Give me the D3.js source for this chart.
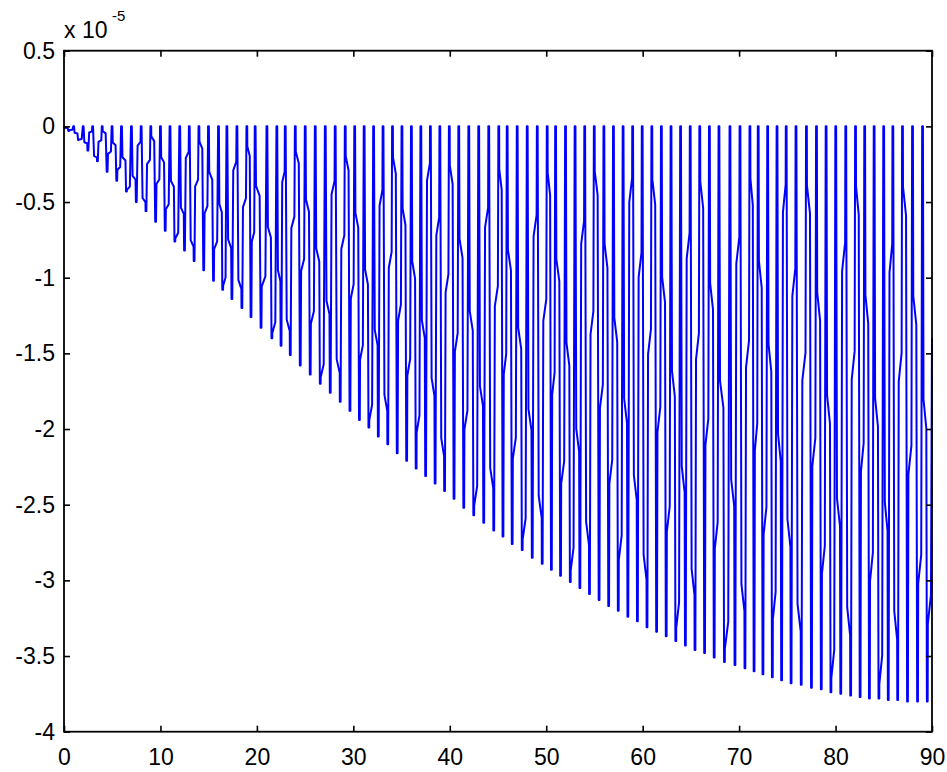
<!DOCTYPE html>
<html>
<head>
<meta charset="utf-8">
<script src="https://cdn.jsdelivr.net/npm/d3@7"></script>
<style>
  html, body { margin: 0; padding: 0; background: #fff; }
  svg { display: block; }
  text { font-family: "Liberation Sans", Arial, Helvetica, sans-serif; fill: #000; }
</style>
</head>
<body>
<svg id="chart" width="947" height="772"></svg>
<script>
// Axis ticks
const xTicks = [0, 10, 20, 30, 40, 50, 60, 70, 80, 90];
const yTicks = [0.5, 0, -0.5, -1, -1.5, -2, -2.5, -3, -3.5, -4];
const yExponent = "-5";

// Crest positions (value 0) of each oscillation
const peakX = [0, 1.00, 1.99, 2.97, 3.96, 4.98, 5.96, 6.99, 8.00, 9.00,
  10.00, 10.99, 12.00, 12.99, 13.99, 14.98, 16.02, 16.89, 17.93, 18.96,
  19.82, 21.04, 22.07, 22.94, 23.98, 25.01, 26.05, 27.09, 28.12, 29.16,
  30.14, 31.12, 32.10, 33.08, 34.06, 35.04, 36.02, 37.00, 37.99, 38.97,
  39.95, 40.93, 41.97, 43.00, 44.04, 45.08, 45.95, 46.99, 48.03, 49.07,
  50.10, 50.97, 52.00, 52.99, 53.99, 54.98, 55.98, 56.97, 57.97, 58.96,
  59.95, 60.95, 61.94, 62.94, 63.93, 64.93, 65.92, 66.92, 67.91, 69.05,
  70.09, 71.12, 71.98, 72.96, 73.93, 74.88, 75.90, 76.98, 78.02, 79.02,
  80.02, 81.06, 82.07, 83.02, 84.00, 84.99, 85.94, 86.94, 87.98, 89.02];

// Minimum reached after each crest (x 1e-5)
const troughY = [-0.03, -0.09, -0.16, -0.23, -0.30, -0.36, -0.43, -0.50, -0.56, -0.63,
  -0.69, -0.76, -0.82, -0.89, -0.95, -1.02, -1.08, -1.14, -1.20, -1.26,
  -1.33, -1.40, -1.45, -1.51, -1.58, -1.64, -1.70, -1.76, -1.82, -1.88,
  -1.94, -1.99, -2.05, -2.10, -2.16, -2.21, -2.26, -2.31, -2.36, -2.41,
  -2.46, -2.52, -2.57, -2.62, -2.67, -2.71, -2.76, -2.80, -2.85, -2.89,
  -2.93, -2.97, -3.01, -3.05, -3.09, -3.13, -3.17, -3.20, -3.24, -3.27,
  -3.31, -3.34, -3.37, -3.40, -3.43, -3.46, -3.48, -3.51, -3.54, -3.56,
  -3.58, -3.60, -3.62, -3.64, -3.66, -3.68, -3.69, -3.71, -3.72, -3.74,
  -3.75, -3.76, -3.77, -3.78, -3.78, -3.79, -3.79, -3.80, -3.80, -3.80];

// Depth (share of the swing) where each falling edge jogs sideways
const fallKink = [0.32, 0.50, 0.68, 0.87, 0.13, 0.32, 0.50, 0.68, 0.87, 0.13,
  0.32, 0.50, 0.68, 0.87, 0.13, 0.32, 0.50, 0.68, 0.87, 0.13,
  0.32, 0.50, 0.68, 0.87, 0.13, 0.32, 0.50, 0.68, 0.87, 0.13,
  0.32, 0.50, 0.68, 0.87, 0.12, 0.27, 0.42, 0.58, 0.73, 0.88,
  0.13, 0.32, 0.50, 0.68, 0.87, 0.13, 0.32, 0.50, 0.68, 0.87,
  0.13, 0.32, 0.50, 0.68, 0.87, 0.12, 0.27, 0.42, 0.58, 0.73,
  0.88, 0.13, 0.32, 0.50, 0.68, 0.87, 0.13, 0.32, 0.50, 0.68,
  0.87, 0.12, 0.27, 0.42, 0.58, 0.73, 0.88, 0.13, 0.32, 0.50,
  0.68, 0.87, 0.13, 0.32, 0.50, 0.68, 0.87, 0.13, 0.32, 0.50];

// Depth where each rising edge jogs sideways
const riseKink = [0.77, 0.95, 0.23, 0.42, 0.58, 0.77, 0.95, 0.23, 0.42, 0.58,
  0.77, 0.95, 0.23, 0.42, 0.58, 0.77, 0.95, 0.23, 0.42, 0.58,
  0.77, 0.95, 0.23, 0.42, 0.58, 0.77, 0.95, 0.23, 0.42, 0.58,
  0.77, 0.95, 0.23, 0.42, 0.57, 0.72, 0.87, 0.13, 0.28, 0.43,
  0.58, 0.77, 0.95, 0.23, 0.42, 0.58, 0.77, 0.95, 0.23, 0.42,
  0.58, 0.77, 0.95, 0.23, 0.42, 0.57, 0.72, 0.87, 0.13, 0.28,
  0.43, 0.58, 0.77, 0.95, 0.23, 0.42, 0.58, 0.77, 0.95, 0.23,
  0.42, 0.57, 0.72, 0.87, 0.13, 0.28, 0.43, 0.58, 0.77, 0.95,
  0.23, 0.42, 0.58, 0.77, 0.95, 0.23, 0.42, 0.58, 0.77, 0.84];

// Last sample of the record
const endX = 90;
const endY = -1.4;

// ---- layout ----
const svg = d3.select("#chart");
const margin = { left: 64, right: 15, top: 50.7, bottom: 40.3 };
const W = 947, H = 772;
const x = d3.scaleLinear().domain([0, 90]).range([margin.left, W - margin.right]);
const y = d3.scaleLinear().domain([-4, 0.5]).range([H - margin.bottom, margin.top]);

// ---- build the trace ----
const apex = 0.04;   // half-width of crest / trough turn (x units)
const jogH = 0.05;   // vertical extent of a sideways jog (share of swing)
const jogW = 0.7;    // share of the sideways travel taken in the jog

// one edge from its crest (top) to its trough (bottom), listed top -> bottom
function edge(xTop, xBot, m, f) {
  const d1 = Math.max(0, f - jogH / 2), d2 = Math.min(1, f + jogH / 2);
  const X = (d, s) => xTop + (xBot - xTop) * ((1 - jogW) * d + jogW * s);
  return [[X(0, 0), 0], [X(d1, 0), m * d1], [X(d2, 1), m * d2], [X(1, 1), m]];
}

const pts = [];
const n = peakX.length;
for (let i = 0; i < n; i++) {
  const p = peakX[i];
  const last = i === n - 1;
  const nextP = last ? endX : peakX[i + 1];
  const q = (p + nextP) / 2;
  const m = troughY[i];
  if (i === 0) pts.push([p, 0]);
  else pts.push([p - apex, 0]);
  const fall = edge(i === 0 ? p : p + apex, q - apex, m, fallKink[i]);
  pts.push(...fall);
  const rise = edge(last ? endX : nextP - apex, q + apex, m, riseKink[i]).reverse();
  if (last) {
    // record stops part-way up the final rise
    rise.slice(0, 3).forEach(pt => { if (pt[1] < endY) pts.push(pt); });
    pts.push([endX, endY]);
  } else {
    pts.push(...rise.slice(0, 3));
  }
}

const line = d3.line().x(d => x(d[0])).y(d => y(d[1]));
svg.append("path")
  .attr("d", line(pts))
  .attr("fill", "none")
  .attr("stroke", "#0000ff")
  .attr("stroke-width", 2)
  .attr("stroke-linejoin", "round");

// ---- axes ----
const fontSize = 23;
const tick = 6;
const fmt = d => String(d);

const gB = svg.append("g").attr("transform", `translate(0,${y(-4)})`)
  .call(d3.axisBottom(x).tickValues(xTicks).tickFormat(fmt).tickSize(-tick).tickPadding(17));
const gT = svg.append("g").attr("transform", `translate(0,${y(0.5)})`)
  .call(d3.axisTop(x).tickValues(xTicks).tickFormat("").tickSize(-tick));
const gL = svg.append("g").attr("transform", `translate(${x(0)},0)`)
  .call(d3.axisLeft(y).tickValues(yTicks).tickFormat(fmt).tickSize(-tick).tickPadding(9));
const gR = svg.append("g").attr("transform", `translate(${x(90)},0)`)
  .call(d3.axisRight(y).tickValues(yTicks).tickFormat("").tickSize(-tick));

[gB, gT, gL, gR].forEach(g => {
  g.select(".domain").remove();
  g.selectAll(".tick line").attr("stroke", "#000").attr("stroke-width", 1.6);
  g.selectAll("text")
    .attr("font-size", fontSize)
    .attr("font-family", "'Liberation Sans', Arial, Helvetica, sans-serif")
    .attr("fill", "#000");
});

// frame
svg.append("rect")
  .attr("x", x(0)).attr("y", y(0.5))
  .attr("width", x(90) - x(0)).attr("height", y(-4) - y(0.5))
  .attr("fill", "none").attr("stroke", "#000").attr("stroke-width", 1.8);

// scale factor label
const ex = svg.append("text").attr("x", x(0)).attr("y", 38).attr("font-size", fontSize);
ex.append("tspan").text("x 10");
ex.append("tspan").attr("x", x(0) + 48).attr("y", 21).attr("font-size", 15).text(yExponent);
</script>
</body>
</html>
